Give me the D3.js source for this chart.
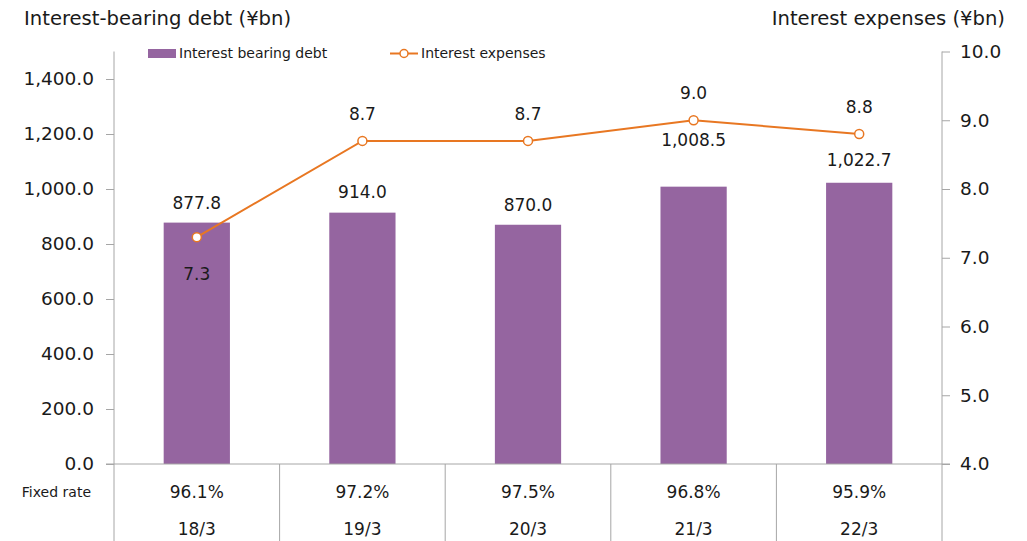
<!DOCTYPE html>
<html><head><meta charset="utf-8">
<script src="https://cdn.jsdelivr.net/npm/d3@7"></script>
<style>body{margin:0;background:#fff;} text{font-family:"DejaVu Sans",Verdana,sans-serif;fill:#1a1a1a;}</style>
</head><body><svg id="c" width="1027" height="541"></svg>
<script>
const categories = ["18/3","19/3","20/3","21/3","22/3"];
const debt = [877.8, 914.0, 870.0, 1008.5, 1022.7];
const expenses = [7.3, 8.7, 8.7, 9.0, 8.8];
const fixedRate = ["96.1%","97.2%","97.5%","96.8%","95.9%"];
const leftTicks = [0,200,400,600,800,1000,1200,1400];
const rightTicks = [4,5,6,7,8,9,10];

const svg = d3.select("#c");
const L = 114, R = 942, T = 51.5, B = 464;
const x = d3.scaleBand().domain(categories).range([L,R]).paddingInner(0).paddingOuter(0);
const yL = d3.scaleLinear().domain([0,1500]).range([B,T]);
const yR = d3.scaleLinear().domain([4,10]).range([B,T]);
const purple = "#9565a0", orange = "#e87722", grey = "#a6a6a6";

// titles
svg.append("text").attr("x",24).attr("y",25).attr("font-size",19.6).text("Interest-bearing debt (¥bn)");
svg.append("text").attr("x",1005).attr("y",25).attr("font-size",19.6).attr("text-anchor","end").text("Interest expenses (¥bn)");

// bars
svg.selectAll("rect.bar").data(debt).join("rect").attr("class","bar")
  .attr("x",(d,i)=>x(categories[i])+x.bandwidth()*0.3)
  .attr("width",x.bandwidth()*0.4)
  .attr("y",d=>yL(d)).attr("height",d=>B-yL(d)).attr("fill",purple);

// axes
const axL = d3.axisLeft(yL).tickValues(leftTicks).tickSize(8).tickPadding(12).tickFormat(d3.format(",.1f"));
const gL = svg.append("g").attr("transform",`translate(${L},0)`).call(axL);
const axR = d3.axisRight(yR).tickValues(rightTicks).tickSize(8).tickPadding(10).tickFormat(d3.format(".1f"));
const gR = svg.append("g").attr("transform",`translate(${R},0)`).call(axR);
[gL,gR].forEach(g=>{
  g.select(".domain").attr("stroke",grey).attr("d", `M0,${T}V${B}`);
  g.selectAll(".tick line").attr("stroke",grey);
  g.selectAll(".tick text").attr("font-size",18.5).attr("fill","#1a1a1a").attr("font-family","DejaVu Sans, Verdana, sans-serif");
});
// baseline
svg.append("line").attr("x1",L-8).attr("x2",R+8).attr("y1",B).attr("y2",B).attr("stroke",grey);

// table
const edges = categories.map(c=>x(c)).concat([R]);
svg.selectAll("line.vt").data(edges).join("line").attr("class","vt")
  .attr("x1",d=>d).attr("x2",d=>d).attr("y1",B).attr("y2",541).attr("stroke",grey);
svg.append("text").attr("x",91).attr("y",497).attr("font-size",14).attr("text-anchor","end").text("Fixed rate");
svg.selectAll("text.fr").data(fixedRate).join("text").attr("class","fr")
  .attr("x",(d,i)=>x(categories[i])+x.bandwidth()/2).attr("y",498).attr("font-size",17).attr("text-anchor","middle").text(d=>d);
svg.selectAll("text.cat").data(categories).join("text").attr("class","cat")
  .attr("x",d=>x(d)+x.bandwidth()/2).attr("y",535).attr("font-size",17).attr("text-anchor","middle").text(d=>d);

// bar labels
const debtLabelOffset = [20,21,20,47,23];
svg.selectAll("text.dl").data(debt).join("text").attr("class","dl")
  .attr("x",(d,i)=>x(categories[i])+x.bandwidth()/2)
  .attr("y",(d,i)=>yL(d)-debtLabelOffset[i]+6).attr("font-size",17).attr("text-anchor","middle")
  .text(d=>d3.format(",.1f")(d));

// line
const cx = (d,i)=>x(categories[i])+x.bandwidth()/2;
svg.append("path").datum(expenses).attr("fill","none").attr("stroke",orange).attr("stroke-width",2)
  .attr("d",d3.line().x(cx).y(d=>yR(d)));
svg.selectAll("circle.pt").data(expenses).join("circle").attr("class","pt")
  .attr("cx",cx).attr("cy",d=>yR(d)).attr("r",4.5).attr("fill","#fff").attr("stroke",orange).attr("stroke-width",1.5);
const expLabelOffset = [-37,27,27,27,27];
svg.selectAll("text.el").data(expenses).join("text").attr("class","el")
  .attr("x",cx).attr("y",(d,i)=>yR(d)-expLabelOffset[i]+6).attr("font-size",17).attr("text-anchor","middle")
  .text(d=>d3.format(".1f")(d));

// legend
svg.append("rect").attr("x",148).attr("y",49).attr("width",28).attr("height",9).attr("fill",purple);
svg.append("text").attr("x",179).attr("y",58).attr("font-size",14).text("Interest bearing debt");
svg.append("line").attr("x1",390).attr("x2",418).attr("y1",53.5).attr("y2",53.5).attr("stroke",orange).attr("stroke-width",2);
svg.append("circle").attr("cx",404).attr("cy",53.5).attr("r",4).attr("fill","#fff").attr("stroke",orange).attr("stroke-width",1.5);
svg.append("text").attr("x",421).attr("y",58).attr("font-size",14).text("Interest expenses");
</script></body></html>
